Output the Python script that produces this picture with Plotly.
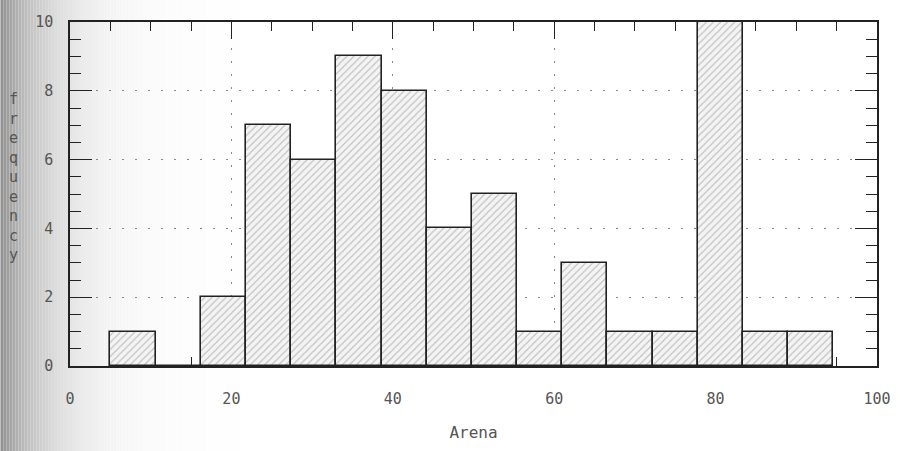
import math
import plotly.graph_objects as go

# Histogram data
bin_start = 5.0
bin_width = 5.6
counts = [1, 0, 2, 7, 6, 9, 8, 4, 5, 1, 3, 1, 1, 10, 1, 1]
x_ticks = [0, 20, 40, 60, 80, 100]
y_ticks = [0, 2, 4, 6, 8, 10]
x_title = "Arena"
y_title = "frequency"

centers = [bin_start + bin_width * (i + 0.5) for i in range(len(counts))]

fig = go.Figure()
fig.add_trace(go.Bar(
    x=centers, y=counts, width=bin_width,
    marker=dict(
        color="#f3f3f3",
        line=dict(color="#222", width=1.6),
        pattern=dict(shape="/", size=5, solidity=0.22, fgcolor="#8a8a8a", bgcolor="#f4f4f4"),
    ),
    showlegend=False,
))

font_fam = "DejaVu Sans Mono, Liberation Mono, monospace"
axis_common = dict(
    showline=True, linecolor="#222", linewidth=1.6, mirror="allticks",
    ticks="inside", tickcolor="#222", tickwidth=1.4,
    showgrid=True, gridcolor="#888", gridwidth=1.2, griddash="2px,11px",
    zeroline=False, layer="below traces",
    tickfont=dict(family=font_fam, size=15, color="#555"),
)

fig.update_xaxes(
    range=[0, 100], tickvals=x_ticks, ticklen=17,
    minor=dict(dtick=5, tick0=0, ticklen=9, ticks="inside", tickcolor="#222", showgrid=False),
    ticklabelstandoff=18, ticklabeloverflow="allow",
    title=dict(text=x_title, font=dict(family=font_fam, size=16, color="#555"), standoff=20),
    **axis_common,
)
fig.update_yaxes(
    range=[0, 10], tickvals=y_ticks, ticklen=22,
    minor=dict(dtick=0.5, tick0=0, ticklen=11, ticks="inside", tickcolor="#222", showgrid=False),
    ticklabelstandoff=12,
    **axis_common,
)

# scan-shadow gradient on the left edge (decorative)
plot_l, plot_w = 70, 812
step = 3
for i in range(80):
    px0 = i * step
    px1 = px0 + step
    g = int(round(255 - 112 * math.exp(-(px0 + step / 2) / 48.0)))
    fig.add_shape(type="rect", xref="paper", yref="paper", layer="below",
                  x0=(px0 - plot_l) / plot_w, x1=(px1 - plot_l) / plot_w,
                  y0=-0.3, y1=1.1, line=dict(width=0),
                  fillcolor=f"rgb({g},{g},{g})")

fig.add_annotation(
    text="<br>".join(list(y_title)), xref="paper", yref="paper",
    x=(13 - plot_l) / plot_w, y=0.55, xanchor="center", yanchor="middle",
    showarrow=False, align="center",
    font=dict(family=font_fam, size=15, color="#555"),
)

fig.update_layout(
    width=903, height=451,
    margin=dict(l=70, r=21, t=22, b=85),
    paper_bgcolor="white", plot_bgcolor="rgba(0,0,0,0)",
    bargap=0,
)

fig.write_html("out.html", config={"displayModeBar": False},
               post_script="document.body.style.margin='0';document.body.style.overflow='hidden';")
